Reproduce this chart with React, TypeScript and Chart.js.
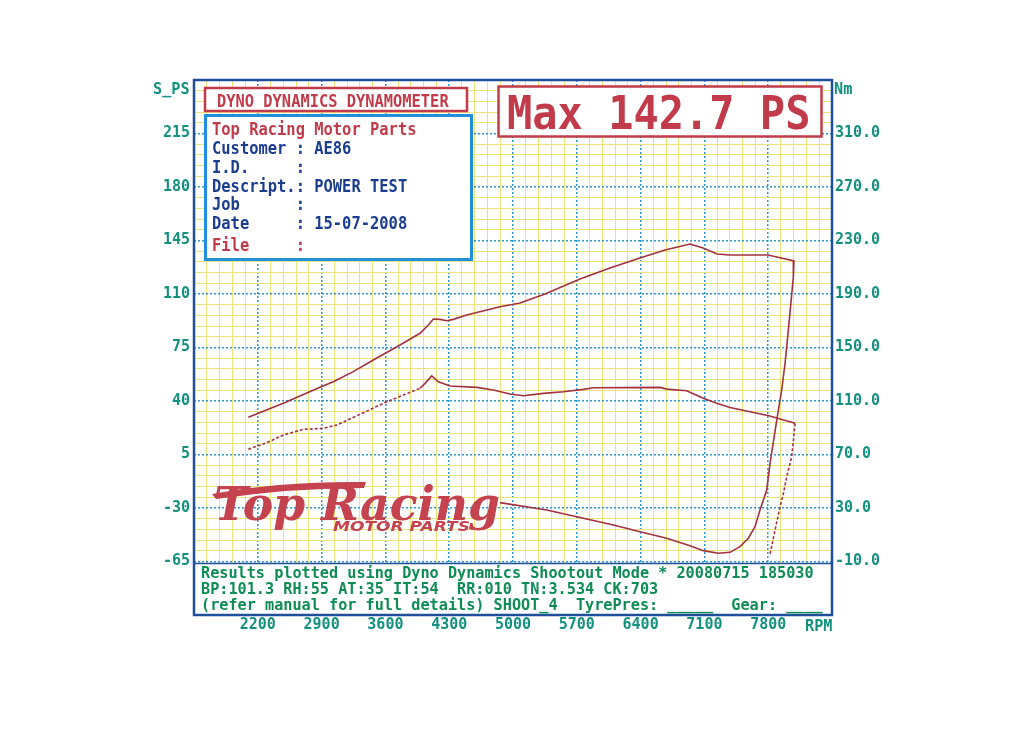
import React, { useEffect, useRef } from "react";
import { Chart, registerables } from "chart.js";

Chart.register(...registerables);

const MONO = "'DejaVu Sans Mono', 'Liberation Mono', monospace";

// ---- data ----
const powerRpm = [
  2096, 2480, 2882, 3028, 3248, 3467, 3760, 3980, 4071, 4126, 4199, 4273, 4345, 4492, 4857,
  5077, 5351, 5735, 6064, 6393, 6668, 6942, 7085, 7239, 7382, 7798, 8083,
  8076, 8021, 7985, 7948, 7900, 7820, 7784, 7710, 7655, 7582, 7491, 7381, 7253, 7088, 6942,
  6686, 6394, 6101, 5699, 5370, 4857,
];
const powerPs = [
  29.3, 38.5, 49.0, 52.6, 59.2, 66.8, 76.6, 84.3, 89.7, 93.6, 93.4, 92.5, 93.4, 96.3, 101.7,
  104.1, 110.0, 119.8, 127.0, 133.6, 138.8, 142.7, 140.1, 136.2, 135.5, 135.5, 131.6,
  121.3, 86.4, 64.7, 47.2, 29.7, -0.8, -18.2, -31.3, -42.2, -49.8, -55.3, -59.0, -59.6, -57.9, -54.7,
  -49.8, -45.5, -41.1, -35.7, -31.3, -26.5,
];

const torqueRpm = [
  2096, 2298, 2480, 2700, 2919, 3066, 3321, 3600, 3980, 4035, 4108, 4180, 4309, 4602, 4784,
  4967, 5113, 5333, 5552, 5771, 5881, 6613, 6686, 6905, 7088, 7235, 7381, 7600, 7808, 8094,
  8076, 8058, 8003, 7967, 7930, 7875, 7820,
];
const torqueNm = [
  73.9, 78.8, 84.6, 88.8, 89.6, 92.0, 100.0, 109.0, 119.5, 123.2, 128.7, 124.4, 121.2, 120.2, 118.2,
  115.2, 113.9, 115.7, 116.9, 118.7, 119.9, 120.2, 118.9, 117.7, 112.0, 108.3, 105.1, 102.0, 99.0, 93.3,
  80.0, 68.3, 53.4, 40.9, 31.0, 13.5, -4.5,
];
const torqueSolidFromRpm = 3980;
const torqueSolidToRpm = 8094;

const rpmTickLabels = [2200, 2900, 3600, 4300, 5000, 5700, 6400, 7100, 7800];
const psTickLabels = [-65, -30, 5, 40, 75, 110, 145, 180, 215];
const nmTickLabels = [-10, 30, 70, 110, 150, 190, 230, 270, 310];

const titleText = "DYNO DYNAMICS DYNAMOMETER";
const maxText = "Max 142.7 PS";
const infoHeader = "Top Racing Motor Parts";
const infoLines = [
  "Customer : AE86",
  "I.D.     :",
  "Descript.: POWER TEST",
  "Job      :",
  "Date     : 15-07-2008",
];
const infoFileLine = "File     :";
const footerLines = [
  "Results plotted using Dyno Dynamics Shootout Mode * 20080715 185030",
  "BP:101.3 RH:55 AT:35 IT:54  RR:010 TN:3.534 CK:703",
  "(refer manual for full details) SHOOT_4  TyrePres: _____  Gear: ____",
];

// ---- colours ----
const CURVE = "#a3313e";
const AXIS_TEXT = "#12917f";
const FOOT_TEXT = "#0d8c55";
const RED = "#c23b4a";
const BLUE_TEXT = "#1b3d8f";
const BLUE_BOX = "#2190dc";
const FRAME = "#1f4f9a";
const GRID_MAJOR = "#2c98cf";
const GRID_MINOR = "#ebe47c";

function drawText(
  ctx: CanvasRenderingContext2D,
  s: string,
  x: number,
  y: number,
  size: number,
  color: string,
  sy = 1,
  width?: number,
  font?: string
) {
  ctx.save();
  ctx.font = font ? font.replace("SIZE", String(size)) : `bold ${size}px ${MONO}`;
  const w = ctx.measureText(s).width;
  const sx = width ? width / w : 1;
  ctx.translate(x, y);
  ctx.scale(sx, sy);
  ctx.fillStyle = color;
  ctx.textBaseline = "alphabetic";
  ctx.textAlign = "left";
  ctx.fillText(s, 0, 0);
  ctx.restore();
}

function drawLogo(ctx: CanvasRenderingContext2D) {
  ctx.save();
  ctx.fillStyle = "#c4434e";
  // swoosh of the T
  ctx.beginPath();
  ctx.moveTo(212, 494);
  ctx.quadraticCurveTo(280, 481, 366, 482);
  ctx.lineTo(364, 488);
  ctx.quadraticCurveTo(290, 488, 216, 499);
  ctx.closePath();
  ctx.fill();
  ctx.restore();
  drawText(ctx, "Top Racing", 214, 520, 46, "#c4434e", 1, 286, "italic bold SIZEpx 'DejaVu Serif'");
  drawText(ctx, "MOTOR PARTS", 333, 531, 14, "#c4434e", 1, 137, "italic bold SIZEpx 'DejaVu Sans'");
}

const decor = {
  id: "decor",
  beforeDatasetsDraw(chart: any) {
    drawLogo(chart.ctx);
  },
  afterDraw(chart: any) {
    const ctx: CanvasRenderingContext2D = chart.ctx;
    const a = chart.chartArea;
    const yS = chart.scales.y;
    const boxTop = yS.getPixelForValue(-65) + 2;

    // bottom text box
    ctx.save();
    ctx.fillStyle = "#ffffff";
    ctx.fillRect(a.left, boxTop, a.right - a.left, a.bottom - boxTop);
    ctx.strokeStyle = FRAME;
    ctx.lineWidth = 1.5;
    ctx.beginPath();
    ctx.moveTo(a.left, boxTop);
    ctx.lineTo(a.right, boxTop);
    ctx.stroke();
    // frame
    ctx.lineWidth = 2.5;
    ctx.strokeRect(a.left, a.top, a.right - a.left, a.bottom - a.top);

    // title box
    ctx.fillStyle = "#ffffff";
    ctx.fillRect(205, 88, 262, 23);
    ctx.strokeStyle = RED;
    ctx.lineWidth = 2.5;
    ctx.strokeRect(205, 88, 262, 23);

    // info box
    ctx.fillStyle = "#ffffff";
    ctx.fillRect(205.5, 115.5, 266, 144);
    ctx.strokeStyle = BLUE_BOX;
    ctx.lineWidth = 3;
    ctx.strokeRect(205.5, 115.5, 266, 144);

    // max box
    ctx.fillStyle = "#ffffff";
    ctx.fillRect(498.5, 86.5, 323, 50);
    ctx.strokeStyle = RED;
    ctx.lineWidth = 2.5;
    ctx.strokeRect(498.5, 86.5, 323, 50);
    ctx.restore();

    drawText(ctx, titleText, 217, 106.5, 15.4, RED, 1.15);
    drawText(ctx, maxText, 507, 128.5, 42, RED, 1.12);

    drawText(ctx, infoHeader, 212, 134.5, 15.45, RED, 1.12);
    const infoBase = [154.3, 173.3, 191.7, 210, 229];
    infoLines.forEach((l, i) => drawText(ctx, l, 212, infoBase[i], 15.45, BLUE_TEXT, 1.12));
    drawText(ctx, infoFileLine, 212, 250.5, 15.45, RED, 1.12);

    const footBase = [578, 594, 610];
    footerLines.forEach((l, i) => drawText(ctx, l, 201, footBase[i], 15.2, FOOT_TEXT, 1.1));

    // axis captions
    drawText(ctx, "S_PS", 153, 94, 15.2, AXIS_TEXT, 1.1);
    drawText(ctx, "Nm", 834, 94, 15.2, AXIS_TEXT, 1.1);
    drawText(ctx, "RPM", 805, 631, 15.2, AXIS_TEXT, 1.1);
  },
};

const isMajor = (ctx: any) => typeof ctx.index === "number" && ctx.index % 5 === 0;

export default function App() {
  const ref = useRef<HTMLCanvasElement>(null);

  useEffect(() => {
    if (!ref.current) return;
    const solidFrom = torqueRpm.indexOf(torqueSolidFromRpm);
    const solidTo = torqueRpm.indexOf(torqueSolidToRpm);
    const tickFont = { family: MONO, size: 15, weight: "bold" as const };

    const chart = new Chart(ref.current, {
      type: "line",
      data: {
        datasets: [
          {
            label: "S_PS",
            data: powerRpm.map((r, i) => ({ x: r, y: powerPs[i] })),
            yAxisID: "y",
            borderColor: CURVE,
            borderWidth: 1.6,
            pointRadius: 0,
            tension: 0,
            fill: false,
          },
          {
            label: "Nm",
            data: torqueRpm.map((r, i) => ({ x: r, y: torqueNm[i] })),
            yAxisID: "y1",
            borderColor: CURVE,
            borderWidth: 1.6,
            pointRadius: 0,
            tension: 0,
            fill: false,
            segment: {
              borderDash: (c: any) =>
                c.p0DataIndex < solidFrom || c.p0DataIndex >= solidTo ? [3, 2] : undefined,
            },
          },
        ],
      },
      options: {
        animation: false,
        responsive: false,
        events: [],
        layout: { padding: { top: 80, left: 0, right: 0, bottom: 0 } },
        plugins: { legend: { display: false }, tooltip: { enabled: false }, title: { display: false } },
        scales: {
          x: {
            type: "linear",
            min: 1500,
            max: 8500,
            afterFit: (s: any) => {
              s.height = 114;
            },
            ticks: {
              stepSize: 140,
              autoSkip: false,
              maxRotation: 0,
              minRotation: 0,
              padding: 1,
              color: AXIS_TEXT,
              font: tickFont,
              callback: (v: any) => (rpmTickLabels.includes(v) ? String(v) : ""),
            },
            grid: {
              drawTicks: false,
              color: (c: any) => (isMajor(c) ? GRID_MAJOR : GRID_MINOR),
              lineWidth: (c: any) => (isMajor(c) ? 1.5 : 1),
            },
            border: { display: false, dash: (c: any) => (isMajor(c) ? [2, 2] : []) },
          },
          y: {
            type: "linear",
            position: "left",
            min: -100,
            max: 250,
            afterFit: (s: any) => {
              s.width = 194;
            },
            ticks: {
              stepSize: 7,
              autoSkip: false,
              padding: 4,
              color: AXIS_TEXT,
              font: tickFont,
              callback: (v: any) => (psTickLabels.includes(v) ? String(v) : ""),
            },
            grid: {
              drawTicks: false,
              color: (c: any) => (isMajor(c) ? GRID_MAJOR : GRID_MINOR),
              lineWidth: (c: any) => (isMajor(c) ? 1.5 : 1),
            },
            border: { display: false, dash: (c: any) => (isMajor(c) ? [2, 2] : []) },
          },
          y1: {
            type: "linear",
            position: "right",
            min: -50,
            max: 350,
            afterFit: (s: any) => {
              s.width = 192;
            },
            ticks: {
              stepSize: 8,
              autoSkip: false,
              padding: 3,
              color: AXIS_TEXT,
              font: tickFont,
              callback: (v: any) => (nmTickLabels.includes(v) ? Number(v).toFixed(1) : ""),
            },
            grid: { drawOnChartArea: false, drawTicks: false },
            border: { display: false },
          },
        },
      },
      plugins: [decor],
    });
    return () => chart.destroy();
  }, []);

  return (
    <div style={{ position: "absolute", left: 0, top: 0, width: 1024, height: 729, background: "#ffffff" }}>
      <canvas ref={ref} width={1024} height={729} style={{ display: "block" }} />
    </div>
  );
}
